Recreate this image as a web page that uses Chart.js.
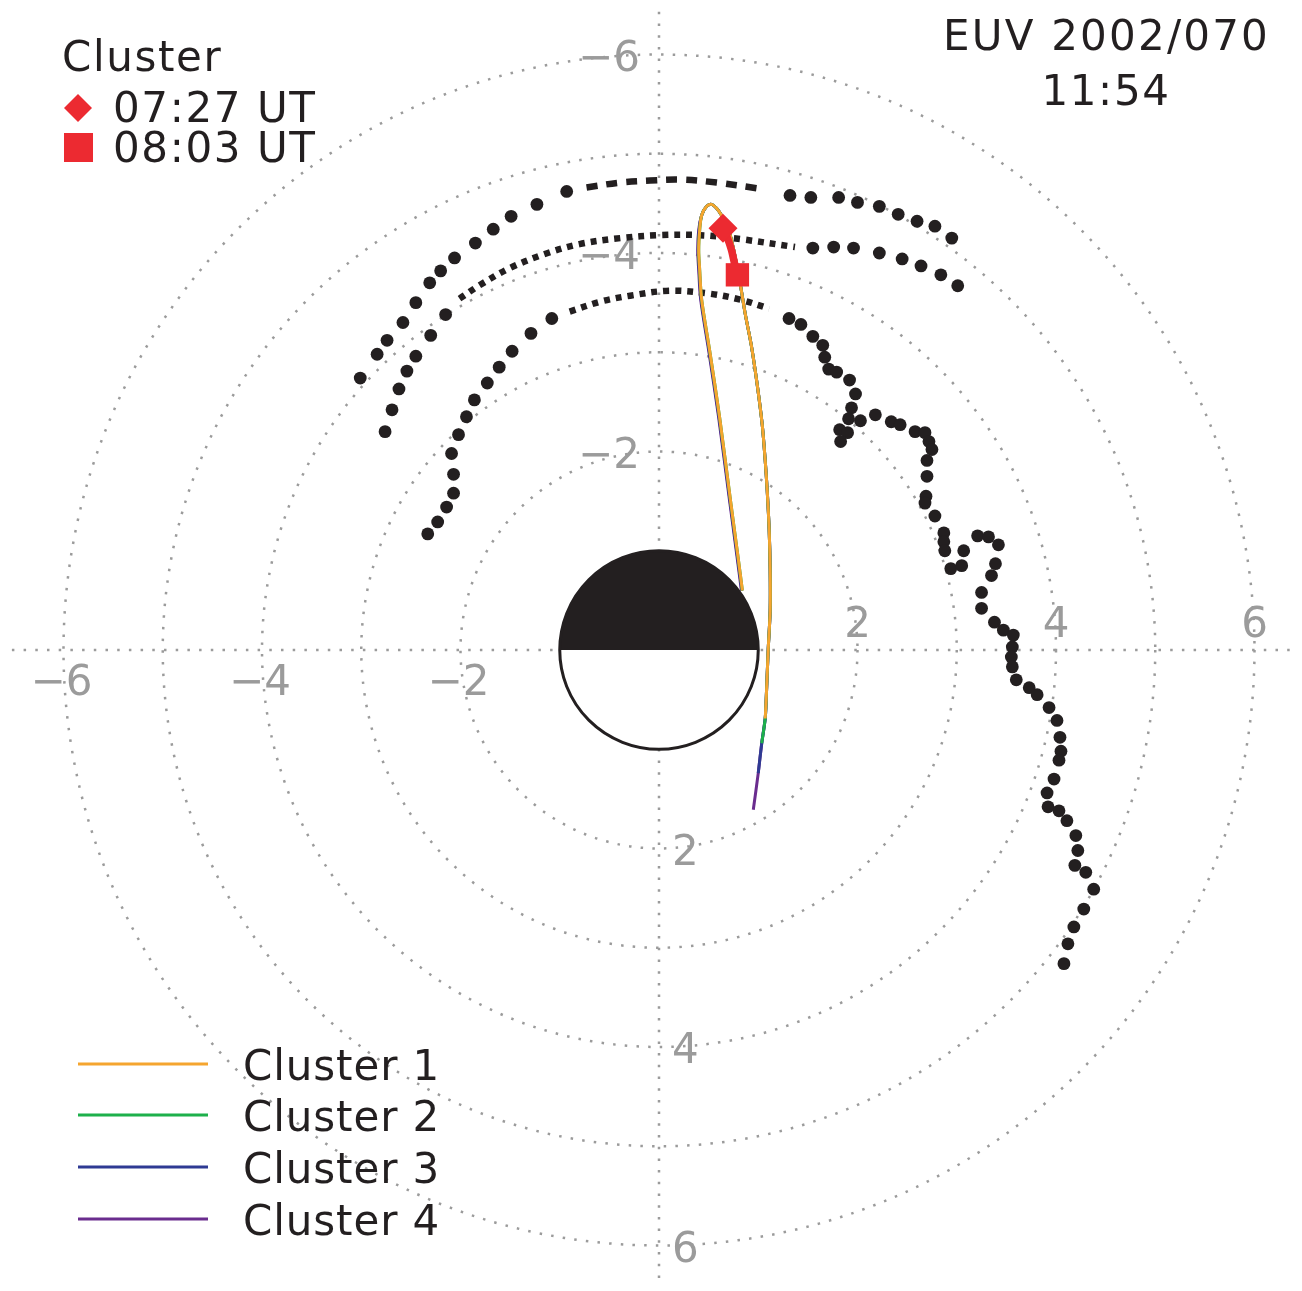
<!DOCTYPE html>
<html><head><meta charset="utf-8">
<script src="https://cdn.jsdelivr.net/npm/chart.js@4.4.0/dist/chart.umd.min.js"></script>
<style>html,body{margin:0;padding:0;background:#fff;}canvas{display:block}</style>
</head><body>
<canvas id="c" width="1302" height="1291"></canvas>
<script>
// ---------- DATA (Earth radii, SM-like frame; y positive downward) ----------
const ringRadii = [2, 3, 4, 5, 6];
const earthRadius = 1;
const xTickValues = [-6, -4, -2, 2, 4, 6];
const xTickLabels = ['\u22126', '\u22124', '\u22122', '2', '4', '6'];
const yTickValues = [-6, -4, -2, 2, 4, 6];
const yTickLabels = ['\u22126', '\u22124', '\u22122', '2', '4', '6'];
const axisExtentX = [-6.52, 6.36];
const axisExtentY = [-6.43, 6.40];

const outerDotsLeft = [[-3.01,-2.74],[-2.84,-2.98],[-2.74,-3.12],[-2.58,-3.30],[-2.45,-3.50],[-2.31,-3.70],[-2.20,-3.82],[-2.06,-3.95],[-1.85,-4.10],[-1.67,-4.24],[-1.49,-4.37],[-1.23,-4.49],[-0.93,-4.62]];
const outerDash = [[-0.73,-4.66],[-0.39,-4.71],[-0.09,-4.73],[0.21,-4.74],[0.58,-4.71],[1.00,-4.65]];
const outerDotsRight = [[1.32,-4.58],[1.53,-4.56],[1.81,-4.56],[2.00,-4.51],[2.22,-4.47],[2.41,-4.39],[2.60,-4.32],[2.78,-4.27],[2.95,-4.15]];

const middleDotsLeft = [[-2.76,-2.20],[-2.69,-2.42],[-2.62,-2.63],[-2.54,-2.81],[-2.45,-2.96],[-2.30,-3.17],[-2.15,-3.38]];
const middleDash = [[-2.01,-3.54],[-1.80,-3.68],[-1.50,-3.85],[-1.15,-3.99],[-0.80,-4.09],[-0.39,-4.15],[0.01,-4.18],[0.41,-4.18],[0.82,-4.14],[1.37,-4.06]];
const middleDotsRight = [[1.55,-4.05],[1.76,-4.06],[1.96,-4.05],[2.22,-4.00],[2.45,-3.94],[2.64,-3.87],[2.84,-3.78],[3.01,-3.67]];

const innerDotsLeft = [[-2.33,-1.17],[-2.23,-1.29],[-2.14,-1.44],[-2.07,-1.58],[-2.07,-1.77],[-2.09,-1.98],[-2.02,-2.17],[-1.94,-2.35],[-1.86,-2.52],[-1.73,-2.69],[-1.61,-2.85],[-1.48,-3.01],[-1.29,-3.19],[-1.08,-3.34]];
const innerDash = [[-0.90,-3.41],[-0.59,-3.51],[-0.29,-3.57],[0.11,-3.62],[0.51,-3.59],[0.82,-3.53],[1.11,-3.44]];
const innerDotsRight = [[1.31,-3.34],[1.43,-3.28],[1.55,-3.16],[1.65,-3.07],[1.67,-2.95],[1.71,-2.83],[1.79,-2.80],[1.92,-2.72],[1.98,-2.58],[1.94,-2.44],[1.91,-2.33],[2.03,-2.31],[1.82,-2.22],[1.90,-2.19],[1.83,-2.10],[2.18,-2.37],[2.34,-2.30],[2.43,-2.27],[2.58,-2.20],[2.68,-2.19],[2.72,-2.10],[2.75,-2.02],[2.70,-1.91],[2.70,-1.75],[2.69,-1.55],[2.68,-1.48],[2.78,-1.35],[2.87,-1.18],[2.87,-1.09],[2.88,-1.00],[2.94,-0.82],[3.05,-0.85],[3.07,-1.00],[3.21,-1.15],[3.32,-1.14],[3.42,-1.06],[3.39,-0.87],[3.35,-0.75],[3.25,-0.58],[3.25,-0.42],[3.38,-0.28],[3.47,-0.20],[3.57,-0.15],[3.56,-0.03],[3.55,0.07],[3.56,0.17],[3.60,0.30],[3.73,0.38],[3.81,0.45],[3.93,0.58],[4.01,0.71],[4.04,0.88],[4.05,1.02],[4.03,1.11],[3.98,1.30],[3.91,1.44],[3.92,1.58],[4.03,1.62],[4.11,1.72],[4.20,1.87],[4.22,2.02],[4.19,2.17],[4.30,2.24],[4.38,2.41],[4.28,2.61],[4.18,2.79],[4.12,2.96],[4.08,3.16]];

// Cluster orbit tracks (shared path, spacecraft tails differ slightly)
const cluster1Track = [[0.84,-0.60],[0.80,-0.91],[0.72,-1.51],[0.61,-2.35],[0.51,-3.02],[0.43,-3.53],[0.41,-3.83],[0.40,-4.03],[0.41,-4.23],[0.43,-4.38],[0.48,-4.47],[0.53,-4.49],[0.58,-4.45],[0.63,-4.38],[0.69,-4.27],[0.73,-4.13],[0.77,-3.95],[0.82,-3.68],[0.87,-3.38],[0.93,-3.07],[0.99,-2.67],[1.04,-2.27],[1.07,-1.91],[1.09,-1.61],[1.11,-1.21],[1.12,-0.81],[1.12,-0.40],[1.10,0.00],[1.08,0.50],[1.07,0.69]];
const cluster2Track = [[0.84,-0.60],[0.80,-0.91],[0.72,-1.51],[0.61,-2.35],[0.51,-3.02],[0.43,-3.53],[0.41,-3.83],[0.40,-4.03],[0.41,-4.23],[0.43,-4.38],[0.48,-4.47],[0.53,-4.49],[0.58,-4.45],[0.63,-4.38],[0.69,-4.27],[0.73,-4.13],[0.77,-3.95],[0.82,-3.68],[0.87,-3.38],[0.93,-3.07],[0.99,-2.67],[1.04,-2.27],[1.07,-1.91],[1.09,-1.61],[1.11,-1.21],[1.12,-0.81],[1.12,-0.40],[1.10,0.00],[1.08,0.50],[1.07,0.69],[1.035,0.94]];
const cluster3Track = [[0.835,-0.60],[0.795,-0.91],[0.715,-1.51],[0.605,-2.35],[0.505,-3.02],[0.425,-3.53],[0.405,-3.83],[0.395,-4.03],[0.405,-4.23],[0.43,-4.38],[0.48,-4.47],[0.53,-4.49],[0.58,-4.45],[0.63,-4.38],[0.69,-4.27],[0.73,-4.13],[0.77,-3.95],[0.82,-3.68],[0.87,-3.38],[0.93,-3.07],[0.99,-2.67],[1.04,-2.27],[1.07,-1.91],[1.09,-1.61],[1.11,-1.21],[1.12,-0.81],[1.12,-0.40],[1.10,0.00],[1.08,0.50],[1.07,0.69],[1.035,0.94],[1.00,1.24]];
const cluster4Track = [[0.83,-0.60],[0.79,-0.91],[0.71,-1.51],[0.60,-2.35],[0.50,-3.02],[0.42,-3.53],[0.40,-3.83],[0.39,-4.03],[0.40,-4.23],[0.43,-4.38],[0.48,-4.47],[0.53,-4.49],[0.58,-4.45],[0.63,-4.38],[0.69,-4.27],[0.73,-4.13],[0.77,-3.95],[0.82,-3.68],[0.87,-3.38],[0.93,-3.07],[0.99,-2.67],[1.04,-2.27],[1.07,-1.91],[1.09,-1.61],[1.11,-1.21],[1.12,-0.81],[1.12,-0.40],[1.10,0.00],[1.08,0.50],[1.07,0.69],[1.035,0.94],[1.00,1.24],[0.95,1.61]];

const clusterNames = ['Cluster 1', 'Cluster 2', 'Cluster 3', 'Cluster 4'];
const clusterColors = ['#F5A52F', '#1DB04B', '#2E3A93', '#6A2C8E'];

// Cluster interval 07:27 UT -> 08:03 UT
const intervalTrack = [[0.645,-4.25],[0.69,-4.15],[0.73,-4.03],[0.76,-3.90],[0.79,-3.78]];
const startMarker = [[0.645,-4.25]];
const endMarker = [[0.79,-3.78]];
const markerLabels = ['07:27 UT', '08:03 UT'];

const titleLines = ['EUV 2002/070', '11:54'];
const legendTitle = 'Cluster';

// ---------- STYLE ----------
const INK = '#231F20';
const RED = '#EC2A31';
const GRID = '#9B9B9B';
const FONT = '"DejaVu Sans", "Liberation Sans", sans-serif';

const pts = a => a.map(p => ({x: p[0], y: p[1]}));
const dotSet = (a) => ({data: pts(a), showLine: false, pointRadius: 6.4, pointBackgroundColor: INK, pointBorderWidth: 0, order: 20});
const dashSet = (a, dash) => ({data: pts(a), showLine: true, pointRadius: 0, borderColor: INK, borderWidth: 6.5, borderDash: dash, tension: 0.35, order: 20, borderCapStyle: 'butt'});
const trackSet = (a, color, order) => ({data: pts(a), showLine: true, pointRadius: 0, borderColor: color, borderWidth: 3, tension: 0.3, order: order});

const datasets = [
  dotSet(outerDotsLeft), dashSet(outerDash, [11, 9]), dotSet(outerDotsRight),
  dotSet(middleDotsLeft), dashSet(middleDash, [6, 6]), dotSet(middleDotsRight),
  dotSet(innerDotsLeft), dashSet(innerDash, [6, 6]), dotSet(innerDotsRight),
  trackSet(cluster4Track, clusterColors[3], 14),
  trackSet(cluster3Track, clusterColors[2], 13),
  trackSet(cluster2Track, clusterColors[1], 12),
  trackSet(cluster1Track, clusterColors[0], 11),
  {data: pts(intervalTrack), showLine: true, pointRadius: 0, borderColor: RED, borderWidth: 7.5, tension: 0.3, order: 5},
  {data: pts(startMarker), showLine: false, pointStyle: 'rectRot', pointRadius: 14.5, pointBackgroundColor: RED, pointBorderWidth: 0, order: 2},
  {data: pts(endMarker), showLine: false, pointStyle: 'rect', pointRadius: 16.5, pointBackgroundColor: RED, pointBorderWidth: 0, order: 1}
];

const S = 99.25, CX = 659, CY = 650, W = 1302, H = 1291;

function setSpacing(ctx, v){ if ('letterSpacing' in ctx) ctx.letterSpacing = v; }

const gridPlugin = {
  id: 'polarGrid',
  beforeDatasetsDraw(chart) {
    const {ctx, scales: {x: xs, y: ys}} = chart;
    const cx = xs.getPixelForValue(0), cy = ys.getPixelForValue(0);
    const rx = xs.getPixelForValue(1) - cx, ry = ys.getPixelForValue(1) - cy;
    ctx.save();
    ctx.strokeStyle = GRID; ctx.lineWidth = 2.5; ctx.lineCap = 'butt';
    ctx.setLineDash([2.5, 9.2]);
    ringRadii.forEach(r => { ctx.beginPath(); ctx.ellipse(cx, cy, r * rx, r * ry, 0, 0, Math.PI * 2); ctx.stroke(); });
    ctx.beginPath(); ctx.moveTo(xs.getPixelForValue(axisExtentX[0]), cy); ctx.lineTo(xs.getPixelForValue(axisExtentX[1]), cy); ctx.stroke();
    ctx.beginPath(); ctx.moveTo(cx, ys.getPixelForValue(axisExtentY[0])); ctx.lineTo(cx, ys.getPixelForValue(axisExtentY[1])); ctx.stroke();
    ctx.setLineDash([]);
    ctx.fillStyle = GRID; ctx.font = '42px ' + FONT; ctx.textBaseline = 'alphabetic';
    setSpacing(ctx, '0px');
    xTickValues.forEach((v, i) => {
      const px = xs.getPixelForValue(v);
      ctx.textAlign = 'center';
      if (v < 0) ctx.fillText(xTickLabels[i], px - 2, cy + 45);
      else ctx.fillText(xTickLabels[i], px, cy - 13);
    });
    yTickValues.forEach((v, i) => {
      const py = ys.getPixelForValue(v);
      if (v < 0) { ctx.textAlign = 'right'; ctx.fillText(yTickLabels[i], cx - 19, py + 16); }
      else { ctx.textAlign = 'left'; ctx.fillText(yTickLabels[i], cx + 13, py + 16); }
    });
    ctx.restore();
  },
  afterDatasetsDraw(chart) {
    const {ctx, scales: {x: xs, y: ys}} = chart;
    const cx = xs.getPixelForValue(0), cy = ys.getPixelForValue(0);
    const rx = (xs.getPixelForValue(earthRadius) - cx), ry = (ys.getPixelForValue(earthRadius) - cy);
    ctx.save();
    ctx.beginPath(); ctx.ellipse(cx, cy, rx, ry, 0, 0, Math.PI * 2); ctx.fillStyle = '#fff'; ctx.fill();
    ctx.beginPath(); ctx.ellipse(cx, cy, rx, ry, 0, Math.PI, Math.PI * 2); ctx.closePath(); ctx.fillStyle = INK; ctx.fill();
    ctx.beginPath(); ctx.ellipse(cx, cy, rx, ry, 0, 0, Math.PI * 2); ctx.strokeStyle = INK; ctx.lineWidth = 3; ctx.stroke();
    ctx.restore();
  },
  afterDraw(chart) {
    const ctx = chart.ctx;
    ctx.save();
    ctx.fillStyle = INK; ctx.font = '42px ' + FONT; ctx.textBaseline = 'alphabetic';
    setSpacing(ctx, '2.2px');
    ctx.textAlign = 'right'; ctx.fillText(titleLines[0], 1270, 50);
    setSpacing(ctx, '1.6px');
    ctx.textAlign = 'center'; ctx.fillText(titleLines[1], 1106, 105);
    ctx.textAlign = 'left';
    ctx.fillText(legendTitle, 62, 70.5);
    ctx.fillText(markerLabels[0], 113, 121.5);
    ctx.fillText(markerLabels[1], 113, 161.5);
    // legend glyphs
    ctx.fillStyle = RED;
    ctx.beginPath(); ctx.moveTo(78, 94); ctx.lineTo(92, 108); ctx.lineTo(78, 122); ctx.lineTo(64, 108); ctx.closePath(); ctx.fill();
    ctx.fillRect(64, 133, 29, 29);
    // bottom legend
    setSpacing(ctx, '0.9px');
    const rows = [1064, 1115, 1167, 1219];
    clusterNames.forEach((n, i) => {
      ctx.strokeStyle = clusterColors[i]; ctx.lineWidth = 3;
      ctx.beginPath(); ctx.moveTo(78, rows[i]); ctx.lineTo(208, rows[i]); ctx.stroke();
      ctx.fillStyle = INK; ctx.fillText(n, 243, rows[i] + 15.5);
    });
    ctx.restore();
  }
};

new Chart(document.getElementById('c'), {
  type: 'scatter',
  data: {datasets},
  options: {
    responsive: false, animation: false, devicePixelRatio: 1,
    layout: {padding: 0, autoPadding: false},
    plugins: {legend: {display: false}, tooltip: {enabled: false}},
    scales: {
      x: {type: 'linear', display: false, bounds: 'data', min: -CX / S, max: (W - CX) / S},
      y: {type: 'linear', display: false, bounds: 'data', reverse: true, min: -CY / S, max: (H - CY) / S}
    }
  },
  plugins: [gridPlugin]
});
</script>
</body></html>
